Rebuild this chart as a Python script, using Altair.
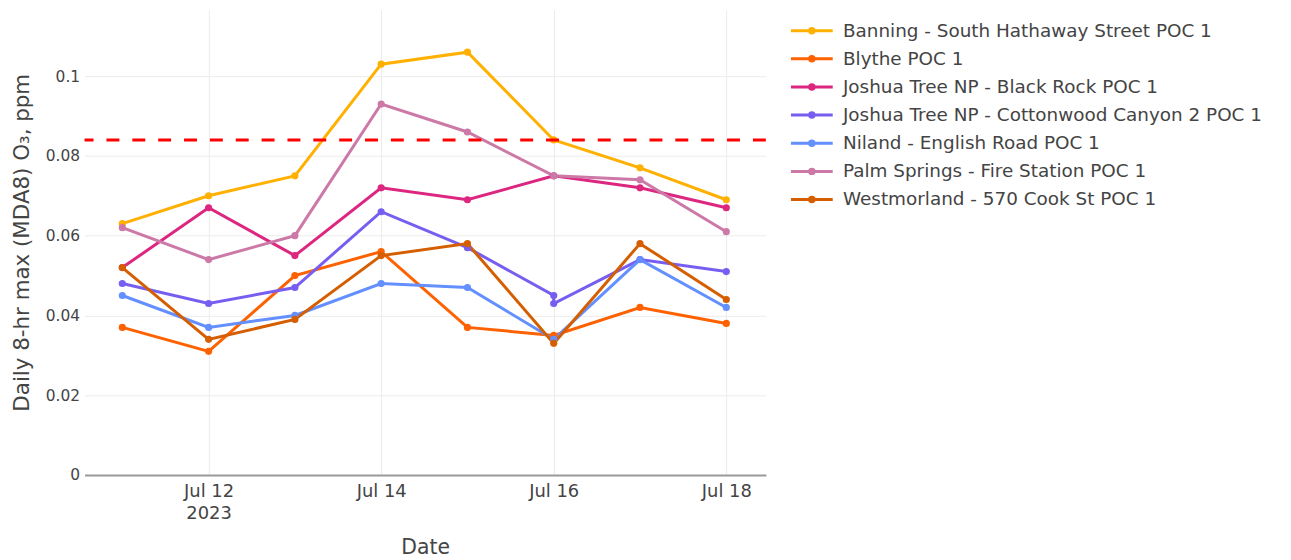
import altair as alt
import pandas as pd

# ---------------- data ----------------
dates = ["2023-07-11", "2023-07-12", "2023-07-13", "2023-07-14",
         "2023-07-15", "2023-07-16", "2023-07-17", "2023-07-18"]

sites = [
    "Banning - South Hathaway Street POC 1",
    "Blythe POC 1",
    "Joshua Tree NP - Black Rock POC 1",
    "Joshua Tree NP - Cottonwood Canyon 2 POC 1",
    "Niland - English Road POC 1",
    "Palm Springs - Fire Station POC 1",
    "Westmorland - 570 Cook St POC 1",
]

banning = [0.063, 0.070, 0.075, 0.103, 0.106, 0.084, 0.077, 0.069]
blythe = [0.037, 0.031, 0.050, 0.056, 0.037, 0.035, 0.042, 0.038]
black_rock = [0.052, 0.067, 0.055, 0.072, 0.069, 0.075, 0.072, 0.067]
cottonwood_dates = ["2023-07-11", "2023-07-12", "2023-07-13", "2023-07-14",
                    "2023-07-15", "2023-07-16", "2023-07-16", "2023-07-17", "2023-07-18"]
cottonwood = [0.048, 0.043, 0.047, 0.066, 0.057, 0.045, 0.043, 0.054, 0.051]
niland = [0.045, 0.037, 0.040, 0.048, 0.047, 0.034, 0.054, 0.042]
palm_springs = [0.062, 0.054, 0.060, 0.093, 0.086, 0.075, 0.074, 0.061]
westmorland = [0.052, 0.034, 0.039, 0.055, 0.058, 0.033, 0.058, 0.044]

threshold = 0.084

colors = ["#FFB000", "#FE6100", "#DC267F", "#785EF0", "#648FFF", "#CC79A7", "#D55E00"]

y_ticks = [0, 0.02, 0.04, 0.06, 0.08, 0.1]

# ---------------- table ----------------
series = [
    (sites[0], dates, banning),
    (sites[1], dates, blythe),
    (sites[2], dates, black_rock),
    (sites[3], cottonwood_dates, cottonwood),
    (sites[4], dates, niland),
    (sites[5], dates, palm_springs),
    (sites[6], dates, westmorland),
]
rows = []
for name, ds, vs in series:
    for i, (d, v) in enumerate(zip(ds, vs)):
        rows.append({"site": name, "date": d + "T00:00:00", "value": v, "idx": i})
df = pd.DataFrame(rows)

FONT = "DejaVu Sans"
TXT = "#444444"

x_dom = [alt.DateTime(year=2023, month=7, date=10, hours=13, minutes=30),
         alt.DateTime(year=2023, month=7, date=18, hours=11, minutes=0)]
x_ticks = [alt.DateTime(year=2023, month=7, date=d) for d in (12, 14, 16, 18)]

x_enc = alt.X(
    "date:T",
    scale=alt.Scale(domain=x_dom, nice=False),
    axis=alt.Axis(
        title="Date",
        values=x_ticks,
        labelExpr="date(datum.value) == 12 ? ['Jul 12', '2023'] : timeFormat(datum.value, '%b %d')",
        labelFont=FONT, labelFontSize=18, labelColor=TXT, labelPadding=8,
        labelLineHeight=22,
        titleFont=FONT, titleFontSize=20.5, titleFontWeight="normal", titleColor=TXT,
        titlePadding=15,
        ticks=False, domainColor="#999999", domainWidth=2,
        grid=True, gridColor="#ececec", gridWidth=1,
    ),
)
y_enc = alt.Y(
    "value:Q",
    scale=alt.Scale(domain=[0, 0.1167], nice=False, zero=True),
    axis=alt.Axis(
        title="Daily 8-hr max (MDA8) O₃, ppm",
        values=y_ticks, format="~g",
        labelFont=FONT, labelFontSize=15.5, labelColor=TXT, labelPadding=5,
        titleFont=FONT, titleFontSize=21.5, titleFontWeight="normal", titleColor=TXT,
        titlePadding=12,
        ticks=False, domain=False,
        grid=True, gridColor="#ececec", gridWidth=1,
    ),
)

# legend symbol: a short line with a dot in the middle
LEG_PATH = "M-4.2,0L4.2,0M-0.45,0A0.45,0.45,0,1,1,0.45,0A0.45,0.45,0,1,1,-0.45,0Z"
legend = alt.Legend(
    title=None, orient="none", legendX=722, legendY=12,
    symbolType=LEG_PATH, symbolSize=100, symbolStrokeWidth=3, symbolOpacity=1,
    labelFont=FONT, labelFontSize=18.5, labelColor=TXT, labelOffset=22,
    rowPadding=9.3, padding=0, labelLimit=600,
)

color_scale = alt.Scale(domain=sites, range=colors)

lines = alt.Chart(df).mark_line(strokeWidth=3).encode(
    x=x_enc, y=y_enc,
    color=alt.Color("site:N", scale=color_scale, legend=legend),
    order=alt.Order("idx:Q"),
)
points = alt.Chart(df).mark_circle(size=52, opacity=1).encode(
    x=x_enc, y=y_enc,
    fill=alt.Fill("site:N", scale=color_scale, legend=legend),
)
rule = alt.Chart(pd.DataFrame({"t": [threshold]})).mark_rule(
    color="#ff0000", strokeWidth=3, strokeDash=[13, 13]
).encode(y=alt.Y("t:Q"))

chart = alt.layer(lines, points, rule).properties(
    width=685, height=468,
    background="white",
    autosize=alt.AutoSizeParams(type="none"),
    padding={"left": 77, "top": 0, "right": 520, "bottom": 90},
).configure_view(stroke=None)

chart.save("out.html", embed_options={"renderer": "svg", "actions": False})
